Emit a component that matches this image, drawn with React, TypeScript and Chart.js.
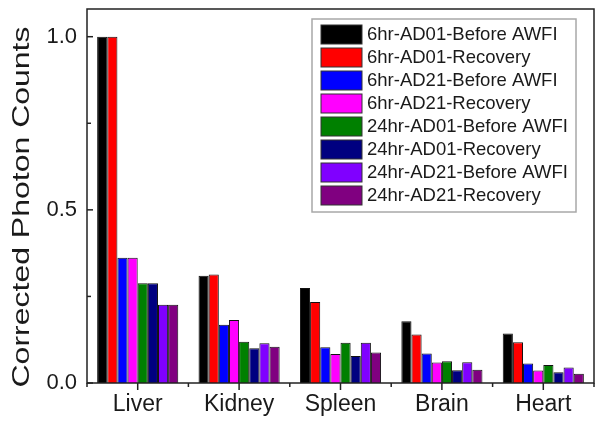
import React, { useEffect, useRef } from "react";
import { Chart, registerables } from "chart.js";

Chart.register(...registerables);

const categories = ["Liver", "Kidney", "Spleen", "Brain", "Heart"];

const seriesNames = [
  "6hr-AD01-Before AWFI",
  "6hr-AD01-Recovery",
  "6hr-AD21-Before AWFI",
  "6hr-AD21-Recovery",
  "24hr-AD01-Before AWFI",
  "24hr-AD01-Recovery",
  "24hr-AD21-Before AWFI",
  "24hr-AD21-Recovery",
];

const seriesColors = [
  "#000000",
  "#FF0000",
  "#0000FF",
  "#FF00FF",
  "#008000",
  "#000080",
  "#8000FF",
  "#800080",
];

const h6AD01Before = [1.0, 0.31, 0.274, 0.178, 0.143];
const h6AD01Recovery = [1.0, 0.313, 0.234, 0.14, 0.118];
const h6AD21Before = [0.362, 0.168, 0.103, 0.085, 0.056];
const h6AD21Recovery = [0.362, 0.182, 0.084, 0.059, 0.036];
const h24AD01Before = [0.288, 0.119, 0.116, 0.063, 0.052];
const h24AD01Recovery = [0.288, 0.1, 0.078, 0.037, 0.031];
const h24AD21Before = [0.226, 0.115, 0.116, 0.06, 0.045];
const h24AD21Recovery = [0.226, 0.105, 0.088, 0.038, 0.027];

const seriesValues = [
  h6AD01Before,
  h6AD01Recovery,
  h6AD21Before,
  h6AD21Recovery,
  h24AD01Before,
  h24AD01Recovery,
  h24AD21Before,
  h24AD21Recovery,
];

const yMajorTicks = [0, 0.5, 1.0];
const yMinorTicks = [0.25, 0.75];
const yTitle = "Corrected Photon Counts";

const FONT = "'Liberation Sans', Arial, sans-serif";
const TEXT = "#1a1a1a";

const decorPlugin = {
  id: "decor",
  afterDraw(chart: any) {
    const { ctx, chartArea, scales } = chart;
    const { left, right, top, bottom } = chartArea;
    const x = scales.x;
    const y = scales.y;
    ctx.save();

    // frame
    ctx.strokeStyle = "#222";
    ctx.lineWidth = 1.5;
    ctx.strokeRect(left, top, right - left, bottom - top);

    const line = (x1: number, y1: number, x2: number, y2: number) => {
      ctx.beginPath();
      ctx.moveTo(x1, y1);
      ctx.lineTo(x2, y2);
      ctx.stroke();
    };

    // y ticks (inward)
    yMajorTicks.forEach((v) => {
      const py = y.getPixelForValue(v);
      line(left, py, left + 6, py);
    });
    yMinorTicks.forEach((v) => {
      const py = y.getPixelForValue(v);
      line(left, py, left + 4, py);
    });

    // x ticks (outward)
    categories.forEach((_, i) => {
      const px = x.getPixelForValue(i);
      line(px, bottom, px, bottom + 7);
    });
    for (let i = 0; i <= categories.length; i++) {
      const px = x.getPixelForValue(i - 0.5);
      line(px, bottom, px, bottom + 4);
    }

    // y title (stretched along its length)
    ctx.fillStyle = TEXT;
    ctx.font = `24px ${FONT}`;
    ctx.textAlign = "center";
    ctx.textBaseline = "middle";
    const w = ctx.measureText(yTitle).width;
    const sx = 361 / w;
    ctx.translate(22, 207);
    ctx.rotate(-Math.PI / 2);
    ctx.scale(sx, 1);
    ctx.fillText(yTitle, 0, 0);
    ctx.setTransform(1, 0, 0, 1, 0, 0);

    // legend
    const boxW = 264;
    const boxH = 193;
    const boxLeft = right - 18 - boxW;
    const boxTop = top + 10;
    ctx.fillStyle = "#ffffff";
    ctx.fillRect(boxLeft, boxTop, boxW, boxH);
    ctx.strokeStyle = "#a8a8a8";
    ctx.lineWidth = 1.5;
    ctx.strokeRect(boxLeft, boxTop, boxW, boxH);

    ctx.font = `18.5px ${FONT}`;
    ctx.textAlign = "left";
    ctx.textBaseline = "middle";
    seriesNames.forEach((name, i) => {
      const ry = boxTop + 6 + i * 23;
      ctx.fillStyle = seriesColors[i];
      ctx.fillRect(boxLeft + 9, ry, 41, 19);
      ctx.strokeStyle = "#333";
      ctx.lineWidth = 1;
      ctx.strokeRect(boxLeft + 9, ry, 41, 19);
      ctx.fillStyle = TEXT;
      ctx.fillText(name, boxLeft + 55, ry + 10);
    });

    ctx.restore();
  },
};

export default function App() {
  const ref = useRef<HTMLCanvasElement | null>(null);

  useEffect(() => {
    if (!ref.current) return;
    const chart = new Chart(ref.current, {
      type: "bar",
      data: {
        labels: categories,
        datasets: seriesNames.map((name, i) => ({
          label: name,
          data: seriesValues[i],
          backgroundColor: seriesColors[i],
          borderColor: "#111",
          borderWidth: 1,
          categoryPercentage: 0.8,
          barPercentage: 1.0,
        })),
      },
      options: {
        animation: false,
        responsive: true,
        maintainAspectRatio: false,
        layout: { padding: { top: 9, right: 9, left: 0, bottom: 0 } },
        plugins: {
          legend: { display: false },
          tooltip: { enabled: false },
        },
        scales: {
          x: {
            grid: { display: false, drawTicks: false },
            border: { display: false },
            ticks: {
              color: TEXT,
              font: { family: FONT, size: 23 },
              padding: 8,
            },
            afterFit: (s: any) => {
              s.height = 45;
              s.paddingLeft = 0;
              s.paddingRight = 0;
            },
          },
          y: {
            min: 0,
            max: 1.08,
            grid: { display: false, drawTicks: false },
            border: { display: false },
            ticks: {
              stepSize: 0.5,
              includeBounds: false,
              color: TEXT,
              font: { family: FONT, size: 22 },
              padding: 10,
              callback: (v: any) => Number(v).toFixed(1),
            },
            afterFit: (s: any) => {
              s.width = 87;
              s.paddingTop = 0;
              s.paddingBottom = 0;
            },
          },
        },
      },
      plugins: [decorPlugin],
    });
    return () => chart.destroy();
  }, []);

  return (
    <div style={{ position: "absolute", left: 0, top: 0, width: 603, height: 428, background: "#fff" }}>
      <canvas ref={ref} />
    </div>
  );
}
